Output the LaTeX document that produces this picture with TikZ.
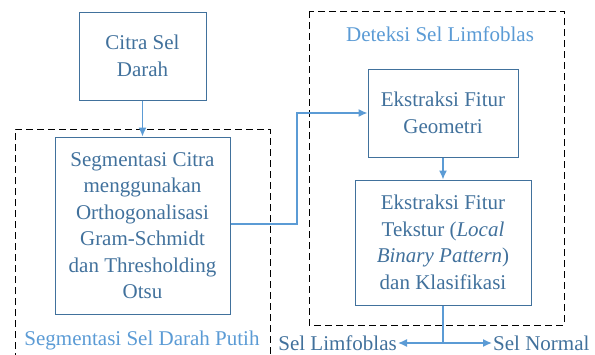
\documentclass[tikz,border=0pt]{standalone}
\usepackage{fontspec}
\setmainfont{Liberation Serif}
\usepackage{tikz}
\usetikzlibrary{arrows.meta}
\usepackage{xcolor}
\definecolor{boxblue}{HTML}{41719C}
\definecolor{lineblue}{HTML}{5B9BD5}

\tikzset{
  blok/.style={draw=boxblue, line width=1pt, text=boxblue, align=center, inner sep=0pt,
    font=\rmfamily\fontsize{21}{26.5}\selectfont},
  grup/.style={draw=black, line width=1pt, dash pattern=on 7pt off 4pt},
  judul/.style={text=lineblue, font=\rmfamily\fontsize{21}{24}\selectfont},
  hasil/.style={text=boxblue, font=\rmfamily\fontsize{21}{24}\selectfont, inner sep=1pt},
  alur/.style={draw=lineblue, line width=1.4pt, ->, >={Latex[length=9pt,width=8pt]}}
}

\begin{document}
\begin{tikzpicture}[x=1pt, y=-1pt]
\useasboundingbox (0,0) rectangle (595,354);

% Dashed group frames
\draw[grup] (15,360) -- (15,129) -- (270,129) -- (270,360);
\draw[grup] (309,11) rectangle (564,325);
\node[judul] (lblseg) at (142,340) {Segmentasi Sel Darah Putih};
\node[judul] (lbldet) at (440,34) {Deteksi Sel Limfoblas};

% Process blocks
\node[blok, minimum width=127, minimum height=88] (citra) at (142.5,56) {Citra Sel\\Darah};
\node[blok, minimum width=175, minimum height=177] (seg) at (142.5,225.5)
  {Segmentasi Citra\\menggunakan\\Orthogonalisasi\\Gram-Schmidt\\dan Thresholding\\Otsu};
\node[blok, minimum width=150, minimum height=88] (geo) at (443,113) {Ekstraksi Fitur\\Geometri};
\node[blok, minimum width=176, minimum height=125] (tek) at (443,242.5)
  {Ekstraksi Fitur\\Tekstur (\textit{Local}\\\textit{Binary Pattern})\\dan Klasifikasi};

% Outputs
\node[hasil, anchor=east] (limfo) at (398,343) {Sel Limfoblas};
\node[hasil, anchor=west] (normal) at (492,343) {Sel Normal};
\coordinate (cabang) at (443,343);

% Connectors
\draw[alur] (citra.south) -- (seg.north);
\draw[alur] (seg.east |- 0,224) -- (297,224) |- (geo.west);
\draw[alur] (geo.south) -- (tek.north);
\draw[draw=lineblue, line width=1.4pt] (tek.south) -- (cabang);
\draw[alur] (cabang) -- (limfo.east);
\draw[alur] (cabang) -- (normal.west);

\end{tikzpicture}
\end{document}
